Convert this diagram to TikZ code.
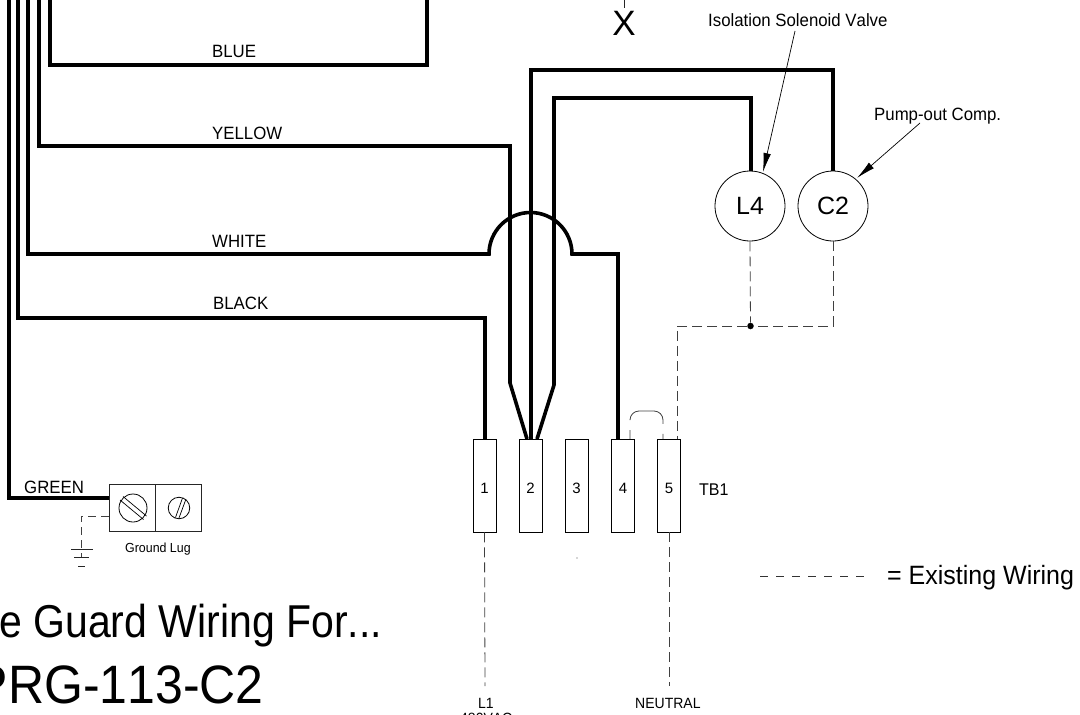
\documentclass[tikz,border=0pt]{standalone}
\usepackage{fontspec}
\setmainfont[Kerning=Off]{Liberation Sans}
\usetikzlibrary{arrows.meta}
\tikzset{
  wire/.style={line width=3.6pt, line join=miter},
  oldwire/.style={line width=0.8pt, black!75, dash pattern=on 10pt off 5pt},
  thin line/.style={line width=0.9pt, black!85},
  terminal/.style={draw, line width=0.9pt, minimum width=23pt, minimum height=93pt, inner sep=0pt, text height=16pt, text depth=0pt, font=\fontsize{15}{15}\selectfont},
  load/.style={draw, circle, line width=0.8pt, minimum size=70pt, inner sep=0pt, font=\fontsize{25}{25}\selectfont},
  label/.style={anchor=base west, inner sep=0pt, yscale=1.06, transform shape, font=\fontsize{16.8}{17}\selectfont},
  pointer/.style={line width=0.7pt, -{Latex[length=19pt,width=7.5pt]}}
}
\begin{document}
\begin{tikzpicture}[x=1pt,y=-1pt]
     \useasboundingbox (0,0) rectangle (1080,715);
     \clip (0,0) rectangle (1080,715);
     % terminal strip
     \node[terminal] (T1) at (484.5,485.5) {1};
     \node[terminal] (T2) at (530.5,485.5) {2};
     \node[terminal] (T3) at (576.5,485.5) {3};
     \node[terminal] (T4) at (623,485.5) {4};
     \node[terminal] (T5) at (669,485.5) {5};
     \node[label, font=\fontsize{16}{16}\selectfont] (TB1) at (699,495) {TB1};
     % loads
     \node[load] (L4) at (750,206) {L4};
     \node[load] (C2) at (833,206) {C2};
     \coordinate (Y2) at (527,439);
     \coordinate (K2) at (531,439);
     \coordinate (R2) at (537,439);
     \coordinate (W4) at (618,439);
     \coordinate (B1) at (485,439);
     % wires from above
     \draw[wire] (50,-5) -- (50,65) -- (427,65) -- (427,-5);
     \draw[wire] (39,-5) -- (39,146) -- (510,146) -- (510,383) -- (Y2);
     \draw[wire] (K2) -- (531,70) -- (833,70) -- (C2.north);
     \draw[wire] (R2) -- (554,385) -- (554,98) -- (751,98) -- (751,171);
     \draw[wire] (28,-5) -- (28,254) -- (489,254) arc (180:360:41.5) -- (618,254) -- (W4);
     \draw[wire] (18,-5) -- (18,318) -- (485,318) -- (B1);
     \draw[wire] (9,-5) -- (9,498) -- (109,498);
     \node[label] (blue) at (212,57) {BLUE};
     \node[label] (yellow) at (212,139) {YELLOW};
     \node[label] (white) at (212,247) {WHITE};
     \node[label] (black) at (213,309) {BLACK};
     \node[label] (green) at (24,493) {GREEN};
     % existing wiring
     \coordinate (J4) at (630,439);
     \coordinate (J5) at (663,439);
     \coordinate (E5) at (677,439);
     \coordinate (EC) at (833,326);
     \coordinate (E1) at (485,686);
     \coordinate (N1) at (669,686);
     \node[circle, fill, inner sep=0pt, minimum size=6.5pt] (dot) at (750.5,326) {};
     \draw[oldwire] (L4.south) -- (dot);
     \draw[oldwire] (C2.south) -- (EC) -- (dot) -- (677,326) -- (E5);
     \draw[oldwire, rounded corners=9pt, dash pattern=on 9pt off 10pt on 47pt off 10pt on 9pt] (J4) -- (630,411) -- (663,411) -- (J5);
     \draw[oldwire] (T1.south) -- (E1);
     \draw[oldwire] (T5.south) -- (N1);
     \node[label, font=\fontsize{14}{14}\selectfont] (L1) at (478,708) {L1};
     \node[label, font=\fontsize{14}{14}\selectfont] (volts) at (460,723) {480VAC};
     \node[label, font=\fontsize{14}{14}\selectfont] (neutral) at (635,708) {NEUTRAL};
     \fill[black!70] (577,558) circle (0.6);
     % callouts
     \node[label] (valve) at (708,26) {Isolation Solenoid Valve};
     \node[label] (pump) at (874,120) {Pump-out Comp.};
     \coordinate (VT) at (795,31);
     \coordinate (VH) at (763,172);
     \coordinate (PT) at (920,123);
     \coordinate (PH) at (857,178);
     \draw[pointer] (VT) -- (VH);
     \draw[pointer] (PT) -- (PH);
     % X mark
     \coordinate (Xtop) at (624,0);
     \coordinate (Xend) at (624,8);
     \draw[thin line] (Xtop) -- (Xend);
     \node[label, anchor=base, yscale=0.95, font=\fontsize{35}{35}\selectfont] (X) at (624,35) {X};
     % ground lug
     \node[draw, thin line, minimum width=46pt, minimum height=47pt, inner sep=0pt] (lugA) at (132,507.5) {};
     \node[draw, thin line, minimum width=46pt, minimum height=47pt, inner sep=0pt] (lugB) at (178,507.5) {};
     \node[draw, circle, line width=0.8pt, minimum size=28pt, inner sep=0pt] (S1) at (133,508) {};
     \node[draw, circle, line width=0.8pt, minimum size=21.5pt, inner sep=0pt] (S2) at (179,508) {};
     \draw[line width=0.7pt] (123,496.5) -- (146.5,516);
     \draw[line width=0.7pt] (120,500) -- (143.5,519.5);
     \draw[line width=0.7pt] (175.5,517.5) -- (182.5,498);
     \draw[line width=0.7pt] (179,518) -- (186,499);
     \node[label, font=\fontsize{12.4}{13}\selectfont] (lug) at (125,552) {Ground Lug};
     \coordinate (G1) at (81,516);
     \coordinate (G2) at (81,557);
     \draw[oldwire, dash pattern=on 8pt off 5pt] (lugA.west |- G1) -- (G1) -- (G2);
     \draw[thin line] (71,549.5) -- (93,549.5);
     \draw[thin line] (74,557) -- (89,557);
     \draw[thin line] (78,566) -- (85,566);
     % legend
     \coordinate (LA) at (760,576);
     \coordinate (LB) at (868,576);
     \draw[line width=0.8pt, black!80, dash pattern=on 8pt off 8pt] (LA) -- (LB);
     \node[label, font=\fontsize{25}{25}\selectfont] (legend) at (887,584) {= Existing Wiring};
     % title
     \node[label, yscale=1.06, font=\fontsize{41}{41}\selectfont] (title) at (-1,637) {e Guard Wiring For...};
     \node[label, anchor=base east, yscale=1.02, font=\fontsize{50}{50}\selectfont] (model) at (264,703) {PRG-113-C2};
\end{tikzpicture}
\end{document}
